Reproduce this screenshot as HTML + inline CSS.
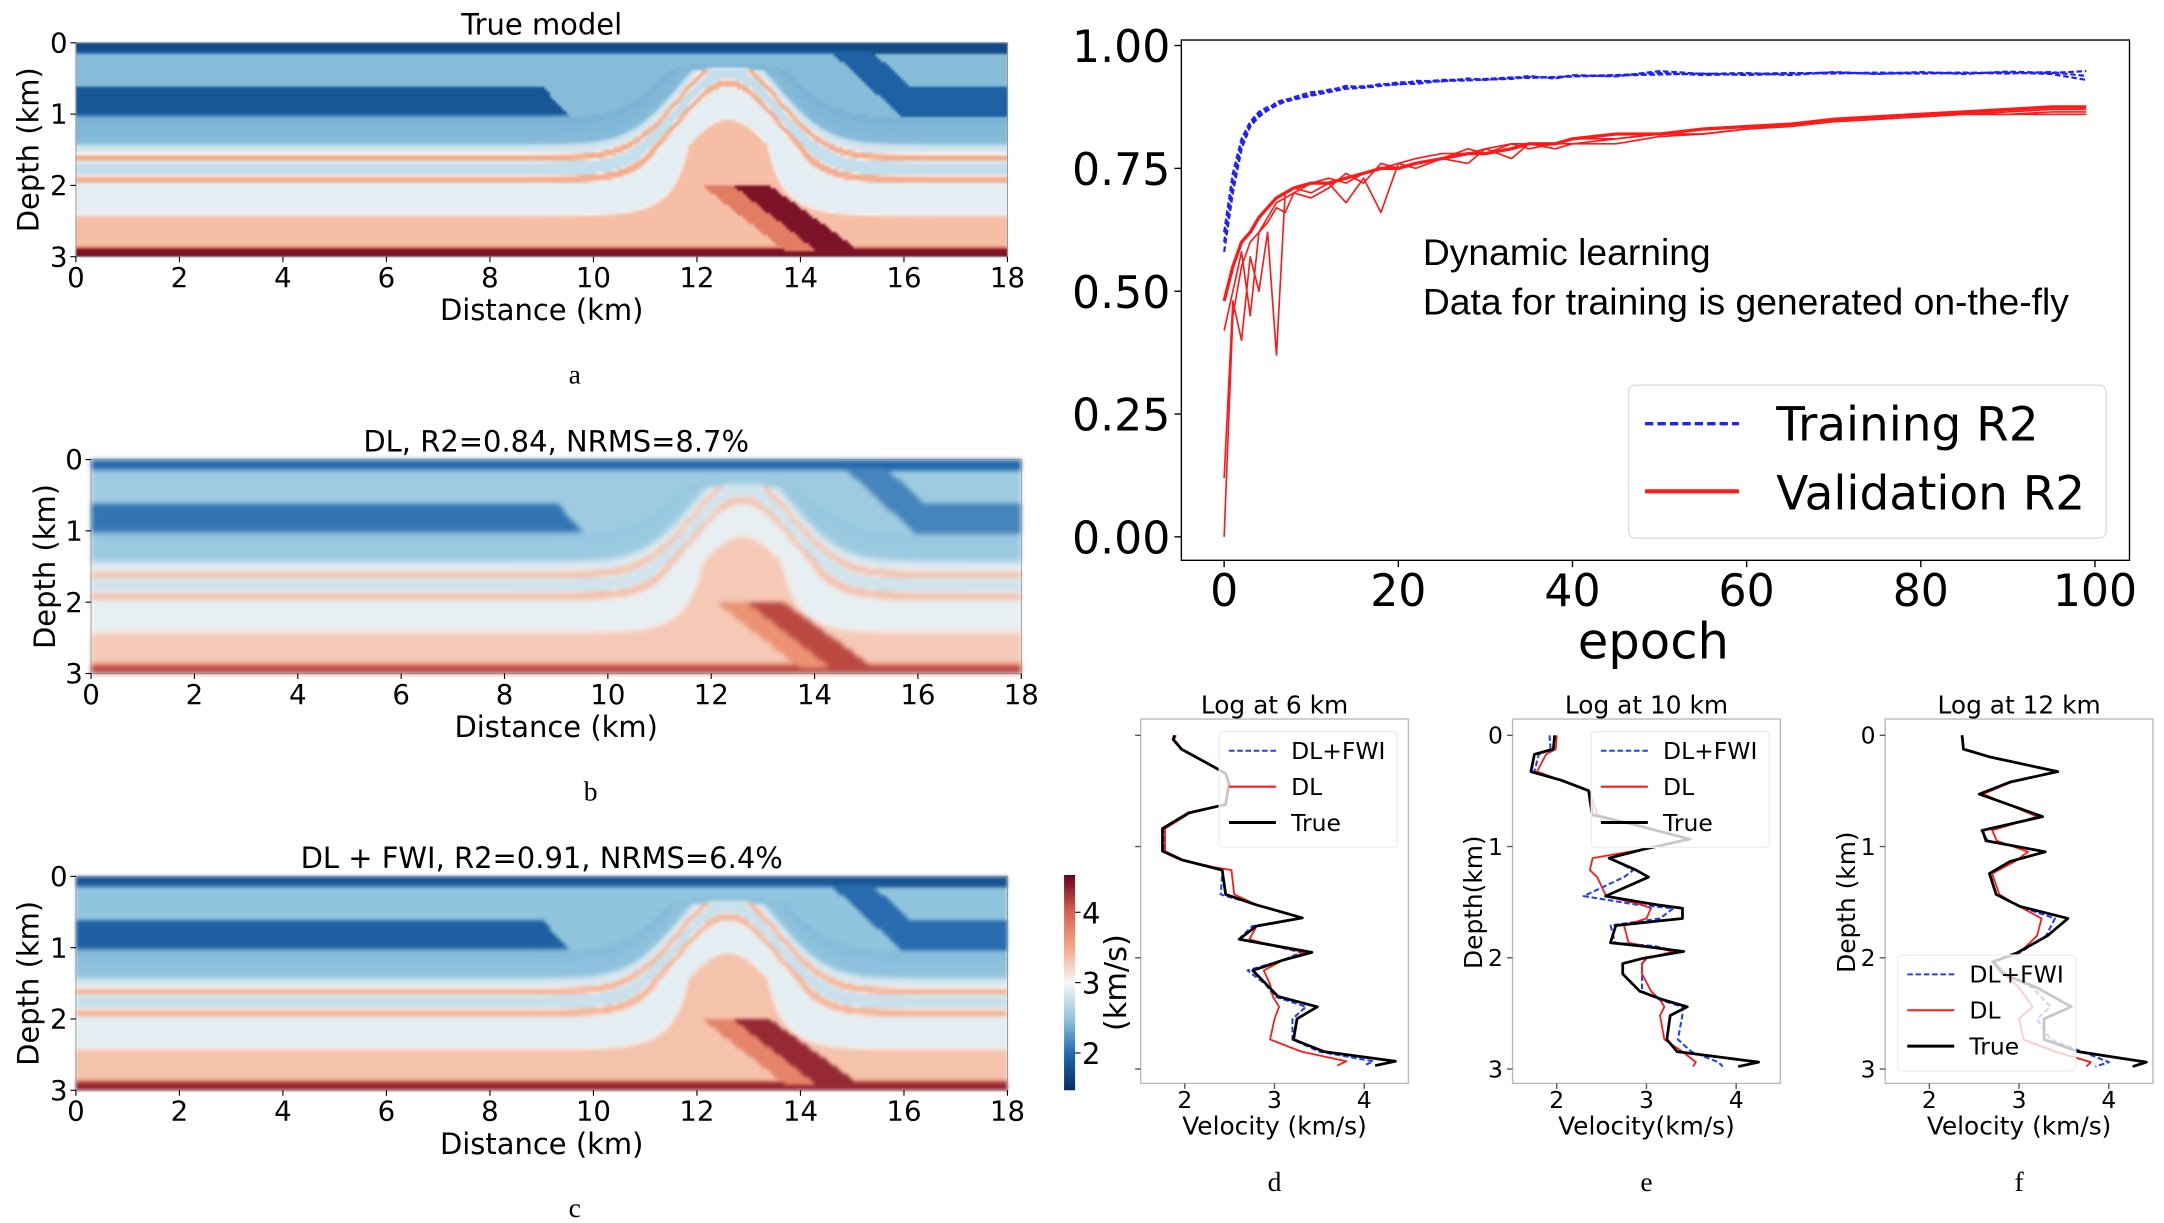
<!DOCTYPE html>
<html><head><meta charset="utf-8">
<style>
html,body{margin:0;padding:0;background:#fff;width:2164px;height:1222px;overflow:hidden}
#root{position:absolute;left:0;top:0;width:1568px;height:886px;transform:scale(1.38010);transform-origin:0 0}
svg{position:absolute;left:0;top:0}
canvas{position:absolute}
text{font-family:"DejaVu Sans","Liberation Sans",sans-serif;fill:#000}
</style></head>
<body>
<div id="root">
<canvas id="cva" width="338" height="78" style="left:55px;top:31px;width:675px;height:155px;filter:blur(0.6px)"></canvas>
<canvas id="cvb" width="338" height="78" style="left:66px;top:333px;width:674px;height:155px;filter:blur(1.8px)"></canvas>
<canvas id="cvc" width="338" height="78" style="left:55px;top:635px;width:675px;height:155px;filter:blur(1.1px)"></canvas>
<svg id="svg" width="1568" height="886" viewBox="0 0 1568 886"></svg>
</div>
<script>
// ---------- data: learning curves ----------
const epochs=[0,1,2,3,4,5,6,7,8,10,12,14,16,18,20,22,25,28,30,33,35,38,40,45,50,55,60,65,70,75,80,85,90,95,99];
const trainRun1=[0.60,0.72,0.80,0.84,0.86,0.87,0.885,0.89,0.893,0.90,0.91,0.915,0.917,0.92,0.925,0.925,0.93,0.93,0.932,0.935,0.934,0.936,0.938,0.94,0.944,0.94,0.942,0.944,0.943,0.945,0.944,0.945,0.943,0.946,0.938];
const trainRun2=[0.62,0.74,0.81,0.845,0.865,0.875,0.88,0.888,0.895,0.905,0.908,0.918,0.915,0.922,0.92,0.928,0.927,0.933,0.93,0.934,0.938,0.933,0.94,0.937,0.948,0.942,0.944,0.94,0.946,0.942,0.946,0.942,0.947,0.944,0.948];
const trainRun3=[0.58,0.70,0.79,0.835,0.855,0.868,0.878,0.886,0.89,0.898,0.905,0.912,0.914,0.918,0.922,0.922,0.928,0.929,0.931,0.932,0.936,0.935,0.937,0.939,0.941,0.943,0.94,0.943,0.945,0.943,0.943,0.944,0.945,0.942,0.93];
const valRun1=[0.0,0.45,0.55,0.60,0.62,0.65,0.68,0.69,0.70,0.72,0.73,0.72,0.74,0.75,0.76,0.77,0.78,0.78,0.79,0.80,0.79,0.80,0.81,0.81,0.82,0.83,0.835,0.84,0.85,0.855,0.86,0.86,0.865,0.87,0.87];
const valRun2=[0.12,0.48,0.40,0.57,0.50,0.62,0.37,0.70,0.71,0.70,0.72,0.68,0.73,0.66,0.76,0.75,0.77,0.76,0.79,0.77,0.80,0.79,0.80,0.80,0.815,0.82,0.83,0.835,0.845,0.85,0.855,0.86,0.86,0.865,0.865];
const valRun3=[0.42,0.50,0.58,0.45,0.62,0.64,0.67,0.66,0.70,0.69,0.71,0.74,0.72,0.76,0.75,0.76,0.77,0.79,0.78,0.80,0.80,0.80,0.80,0.81,0.82,0.82,0.83,0.84,0.845,0.85,0.855,0.86,0.86,0.86,0.86];
const valRun4=[0.48,0.55,0.60,0.62,0.65,0.67,0.69,0.70,0.71,0.72,0.72,0.73,0.74,0.75,0.75,0.76,0.77,0.78,0.78,0.79,0.80,0.80,0.81,0.82,0.82,0.83,0.835,0.84,0.85,0.855,0.86,0.865,0.87,0.875,0.875];
const yTicks=[0,0.25,0.5,0.75,1.0];
const yTickLabels=["0.00","0.25","0.50","0.75","1.00"];
const xTicks=[0,20,40,60,80,100];
// ---------- data: well logs ----------
const logDDepth=[0,0.037,0.124,0.224,0.342,0.435,0.622,0.699,0.839,1.041,1.119,1.181,1.212,1.43,1.523,1.641,1.716,1.834,1.896,1.952,2.02,2.114,2.238,2.347,2.44,2.549,2.735,2.844,2.931,2.969];
const logDTrue=[1.886,1.871,1.962,2.189,2.455,2.492,2.455,2.038,1.75,1.75,1.962,2.265,2.417,2.455,2.795,3.311,2.795,2.606,3.038,3.417,3.098,2.758,2.909,3.038,3.477,3.25,3.212,3.553,4.348,4.121];
const logDDL=[1.9,1.88,1.97,2.2,2.46,2.5,2.45,2.06,1.78,1.78,1.98,2.3,2.52,2.55,2.8,3.3,2.8,2.72,3.0,3.35,3.1,2.88,2.95,2.98,3.05,3.0,2.95,3.3,3.8,3.7];
const logDFWI=[1.88,1.87,1.96,2.19,2.45,2.49,2.45,2.04,1.76,1.77,1.97,2.3,2.42,2.4,2.8,3.3,2.75,2.6,3.0,3.3,3.1,2.7,2.9,3.0,3.35,3.2,3.2,3.5,4.1,4.0];
const logEDepth=[0,0.124,0.171,0.326,0.404,0.497,0.715,0.808,0.933,1.026,1.104,1.212,1.274,1.445,1.523,1.554,1.647,1.71,1.865,1.896,1.943,2.005,2.052,2.145,2.3,2.378,2.44,2.518,2.735,2.844,2.938,2.978];
const logETrue=[1.977,1.962,1.75,1.712,2.053,2.356,2.394,2.886,3.477,2.962,2.583,2.886,3.023,2.545,3.114,3.402,3.402,2.659,2.598,2.962,3.417,2.962,2.735,2.735,2.924,3.189,3.455,3.265,3.227,3.341,4.25,4.023];
const logEDL=[2.0,1.99,1.88,1.78,2.05,2.36,2.45,2.9,3.5,2.95,2.4,2.37,2.45,2.55,2.95,3.05,3.0,2.75,2.8,3.0,3.3,3.0,2.95,2.95,3.05,3.15,3.2,3.15,3.2,3.4,3.55,3.52];
const logEFWI=[1.92,1.93,1.8,1.75,2.05,2.36,2.4,2.9,3.48,2.95,2.6,2.85,2.75,2.3,2.9,3.3,3.15,2.6,2.65,3.1,3.35,3.0,2.95,2.95,2.95,3.15,3.4,3.4,3.35,3.5,3.8,3.85];
const logFDepth=[0,0.124,0.193,0.326,0.42,0.528,0.731,0.855,0.948,1.047,1.135,1.243,1.43,1.539,1.647,1.803,1.958,2.036,2.145,2.269,2.44,2.549,2.735,2.844,2.938,2.978];
const logFTrue=[2.365,2.38,2.669,3.43,2.897,2.555,3.262,2.593,2.631,3.293,2.897,2.669,2.745,3.011,3.544,3.316,2.973,2.707,2.821,3.202,3.582,3.278,3.278,3.658,4.418,4.266];
const logFDL=[2.37,2.38,2.68,3.4,2.92,2.6,3.2,2.7,2.75,3.1,2.95,2.7,2.78,3.0,3.25,3.2,3.0,2.72,2.85,3.0,3.15,3.0,3.05,3.4,3.8,3.75];
const logFFWI=[2.36,2.38,2.67,3.42,2.9,2.57,3.25,2.58,2.65,3.28,2.9,2.68,2.74,3.0,3.4,3.3,3.0,2.7,2.85,3.15,3.35,3.2,3.35,3.7,4.0,3.85];
const velTicks=[2,3,4];
const depthTicks=[0,1,2,3];
const distTicks=[0,2,4,6,8,10,12,14,16,18];

const NS="http://www.w3.org/2000/svg";
const svg=document.getElementById('svg');
function el(tag,attrs,parent){const e=document.createElementNS(NS,tag);for(const k in attrs)e.setAttribute(k,attrs[k]);(parent||svg).appendChild(e);return e;}
function txt(s,x,y,size,anchor,parent,extra){const t=el('text',Object.assign({x:x,y:y,'font-size':size,'text-anchor':anchor||'middle'},extra||{}),parent);t.textContent=s;return t;}

// ---------- velocity model panels ----------
const profZ=[0,0.12,0.16,0.6,0.63,1.0,1.04,1.4,1.45,1.55,1.58,1.64,1.68,1.85,1.88,1.95,1.98,2.4,2.45,2.85,2.9,3.0];
const profV=[1.75,1.75,2.45,2.45,1.85,1.85,2.4,2.45,2.8,2.85,3.45,3.45,2.75,2.75,3.45,3.45,2.9,2.9,3.35,3.35,4.4,4.4];
function interp(xs,ys,x){if(x<=xs[0])return ys[0];for(let i=1;i<xs.length;i++){if(x<=xs[i]){const t=(x-xs[i-1])/(xs[i]-xs[i-1]);return ys[i-1]+t*(ys[i]-ys[i-1]);}}return ys[ys.length-1];}
const cmapV=[1.5,2.0,2.5,3.0,3.5,4.0,4.5];
const cmapC=[[5,48,97],[33,102,172],[146,197,222],[247,247,247],[244,165,130],[214,96,77],[103,0,31]];
function cmap(v){v=Math.max(1.5,Math.min(4.5,v));for(let i=1;i<cmapV.length;i++){if(v<=cmapV[i]){const t=(v-cmapV[i-1])/(cmapV[i]-cmapV[i-1]);return cmapC[i-1].map((c,k)=>Math.round(c+t*(cmapC[i][k]-c)));}}return cmapC[6];}
function model(x,z,mode){
  let v;
  if(z<0.12){v=1.75;}
  else{
    const g=Math.exp(-Math.pow((x-12.6)/1.35,2));
    const f=Math.max(0,Math.min(1,(2.75-z)/1.3))*Math.min(1,Math.max(0,(z-0.15)/0.25));
    let zz=z+1.35*g*f;
    v=interp(profZ,profV,zz);
    if(zz>0.6&&zz<1.04&&x>9.0+(zz-0.6)*1.2) v=2.45;
    if(x>14.4&&z<1.05){const xd=14.4+z*1.5; if(x>xd&&x<xd+0.8)v=1.95; else if(x>=xd+0.8&&z>0.62)v=1.95; else if(x>=xd+0.8&&z<0.15)v=1.75; else if(x>=xd+0.8)v=2.45;}
    if(z>2.0&&z<2.92){const a=12.7+(z-2.0)*1.75,b=13.4+(z-2.0)*1.9; if(x>a&&x<b)v=4.4; else if(x>a-0.6&&x<=a)v=3.8;}
  }
  if(mode===1){v=3.0+(v-3.0)*0.8;}
  if(mode===2){v=3.0+(v-3.0)*0.92;}
  return v;
}
function drawModel(id,mode){
  const c=document.getElementById(id),ctx=c.getContext('2d');const W=c.width,H=c.height;const img=ctx.createImageData(W,H);
  for(let j=0;j<H;j++)for(let i=0;i<W;i++){const x=(i+0.5)/W*18,z=(j+0.5)/H*3;const col=cmap(model(x,z,mode));const p=(j*W+i)*4;img.data[p]=col[0];img.data[p+1]=col[1];img.data[p+2]=col[2];img.data[p+3]=255;}
  ctx.putImageData(img,0,0);
}
drawModel('cva',0);drawModel('cvb',1);drawModel('cvc',2);

function modelAxes(name,x0,y0,w,h,title,letter,ylabX){
  const g=el('g',{});
  el('rect',{x:x0,y:y0,width:w,height:h,fill:'none',stroke:'#888','stroke-width':0.6},g);
  const tt=txt(title,x0+w/2,y0-6,21,'middle',g);
  distTicks.forEach(d=>{const x=x0+d/18*w;el('line',{x1:x,x2:x,y1:y0+h,y2:y0+h+4,stroke:'#000','stroke-width':0.8},g);const t=txt(String(d),x,y0+h+22,20,'middle',g);});
  depthTicks.forEach(d=>{const y=y0+d/3*h;el('line',{x1:x0-4,x2:x0,y1:y,y2:y,stroke:'#000','stroke-width':0.8},g);const t=txt(String(d),x0-6,y+7,20,'end',g);});
  const xl=txt('Distance (km)',x0+w/2,y0+h+46,21,'middle',g);
  const yl=txt('Depth (km)',0,0,21,'middle',g,{transform:`translate(${ylabX},${y0+h/2}) rotate(-90)`});
  const lt=txt(letter,x0+w/2+(name==='panel-b'?25:24),y0+h+92,20,'middle',g);lt.style.fontFamily='"Liberation Serif",serif';
}
modelAxes('panel-a',55,31,675,155,'True model','a',28);
modelAxes('panel-b',66,333,674,155,'DL, R2=0.84, NRMS=8.7%','b',40);
modelAxes('panel-c',55,635,675,155,'DL + FWI, R2=0.91, NRMS=6.4%','c',28);

// colorbar
(function(){
  const g=el('g',{});
  const defs=el('defs',{},g);const lg=el('linearGradient',{id:'cbg',x1:0,y1:1,x2:0,y2:0},defs);
  cmapV.forEach((v,i)=>{const c=cmapC[i];el('stop',{offset:(v-1.5)/3,'stop-color':`rgb(${c[0]},${c[1]},${c[2]})`},lg);});
  const y0=634,y1=790,lo=1.47,hi=4.53;
  el('rect',{x:771,y:y0,width:8,height:y1-y0,fill:'url(#cbg)'},g);
  velTicks.forEach(v=>{const y=y1-(v-lo)/(hi-lo)*(y1-y0);el('line',{x1:779,x2:783,y1:y,y2:y,stroke:'#000','stroke-width':0.8},g);txt(String(v),784,y+8,21,'start',g);});
  txt('(km/s)',0,0,22,'middle',g,{transform:'translate(816,712) rotate(-90)'});
})();

// ---------- learning curve chart ----------
(function(){
  const g=el('g',{});
  const L=856,R=1543,T=29,B=406;
  const X=e=>887+(e/100)*(1518-887);const Y=v=>389-v*356;
  el('rect',{x:L,y:T,width:R-L,height:B-T,fill:'#fff',stroke:'#000','stroke-width':1},g);
  yTicks.forEach((v,i)=>{el('line',{x1:L-5,x2:L,y1:Y(v),y2:Y(v),stroke:'#000'},g);const t=txt(yTickLabels[i],L-8,Y(v)+12,32,'end',g);});
  xTicks.forEach(v=>{el('line',{x1:X(v),x2:X(v),y1:B,y2:B+5,stroke:'#000'},g);const t=txt(String(v),X(v),B+33,32,'middle',g);});
  const xl=txt('epoch',1198,477,36,'middle',g);
  function line(vals,color,w,dash,name){const p=el('path',{d:vals.map((v,i)=>(i?'L':'M')+X(epochs[i]).toFixed(1)+','+Y(v).toFixed(1)).join(''),fill:'none',stroke:color,'stroke-width':w,'stroke-dasharray':dash||'none','stroke-linejoin':'round'},g);}
  line(trainRun1,'#2020ff',1.6,'4 2','training-run-1');
  line(trainRun2,'#2020ff',1.6,'4 2','training-run-2');
  line(trainRun3,'#2020ff',1.6,'4 2','training-run-3');
  line(valRun1,'#ff1a1a',1.2,null,'validation-run-1');
  line(valRun2,'#ff1a1a',1.2,null,'validation-run-2');
  line(valRun3,'#ff1a1a',1.2,null,'validation-run-3');
  line(valRun4,'#ff1a1a',2.4,null,'validation-run-4');
  const a1=txt('Dynamic learning',1031,192,27,'start',g);
  const a2=txt('Data for training is generated on-the-fly',1031,228,27,'start',g);
  a1.style.fontFamily=a2.style.fontFamily='"Liberation Sans",sans-serif';
  const lg=el('g',{},g);
  el('rect',{x:1180,y:279,width:346,height:111,rx:5,fill:'#fff','fill-opacity':0.85,stroke:'#ddd'},lg);
  el('line',{x1:1192,x2:1260,y1:307,y2:307,stroke:'#2020ff','stroke-width':2.5,'stroke-dasharray':'6 3'},lg);
  el('line',{x1:1192,x2:1260,y1:356,y2:356,stroke:'#ff1a1a','stroke-width':3},lg);
  const e1=txt('Training R2',1287,319,34,'start',lg);
  const e2=txt('Validation R2',1287,369,34,'start',lg);
})();

// ---------- well log plots ----------
function logPlot(name,x0,v2px,depthArr,tru,dl,fwi,title,letter,showYLabels,ylabel,legendX,legendY,xlabel){
  const g=el('g',{});
  const T=521,B=785,w=194;
  const X=v=>x0+32+(v-2)*v2px;const Y=d=>532.8+d*80.6;
  el('rect',{x:x0,y:T,width:w,height:B-T,fill:'#fff',stroke:'#bbb','stroke-width':1},g);
  const t=txt(title,x0+w/2,517,18,'middle',g);
  velTicks.forEach(v=>{el('line',{x1:X(v),x2:X(v),y1:B,y2:B+4,stroke:'#555'},g);txt(String(v),X(v),B+18,17,'middle',g);});
  depthTicks.forEach(d=>{el('line',{x1:x0-4,x2:x0,y1:Y(d),y2:Y(d),stroke:'#555'},g);if(showYLabels)txt(String(d),x0-7,Y(d)+6,17,'end',g);});
  const xl=txt(xlabel,x0+w/2,B+37,18,'middle',g);
  if(ylabel){const yl=txt(ylabel,0,0,18,'middle',g,{transform:`translate(${x0-22},${Y(1.5)}) rotate(-90)`});}
  function path(vals,color,w2,dash,nm){const p=el('path',{d:vals.map((v,i)=>(i?'L':'M')+X(v).toFixed(1)+','+Y(depthArr[i]).toFixed(1)).join(''),fill:'none',stroke:color,'stroke-width':w2,'stroke-dasharray':dash||'none','stroke-linejoin':'round'},g);}
  path(fwi,'#2040ff',1.5,'4 2','dlfwi-curve');
  path(dl,'#ff1a1a',1.3,null,'dl-curve');
  path(tru,'#000',2,null,'true-curve');
  const lx=x0+legendX,ly=legendY;
  const lg=el('g',{},g);
  el('rect',{x:lx,y:ly,width:129,height:84,rx:3,fill:'#fff','fill-opacity':0.78,stroke:'#eee'},lg);
  const ent=[['DL+FWI','#2040ff','4 2',1.5],['DL','#ff1a1a',null,1.5],['True','#000',null,2.2]];
  ent.forEach((e,i)=>{const y=ly+14+i*26;el('line',{x1:lx+7,x2:lx+41,y1:y,y2:y,stroke:e[1],'stroke-width':e[3],'stroke-dasharray':e[2]||'none'},lg);const tt=txt(e[0],lx+52,y+6,17,'start',lg);});
  const lt=txt(letter,x0+w/2,863,20,'middle',g);lt.style.fontFamily='"Liberation Serif",serif';
}
logPlot('log-d',826.5,65,logDDepth,logDTrue,logDDL,logDFWI,'Log at 6 km','d',false,null,57,530,'Velocity (km/s)');
logPlot('log-e',1096,65,logEDepth,logETrue,logEDL,logEFWI,'Log at 10 km','e',true,'Depth(km)',57,530,'Velocity(km/s)');
logPlot('log-f',1366,65,logFDepth,logFTrue,logFDL,logFFWI,'Log at 12 km','f',true,'Depth (km)',9,692,'Velocity (km/s)');
</script>
</body></html>
